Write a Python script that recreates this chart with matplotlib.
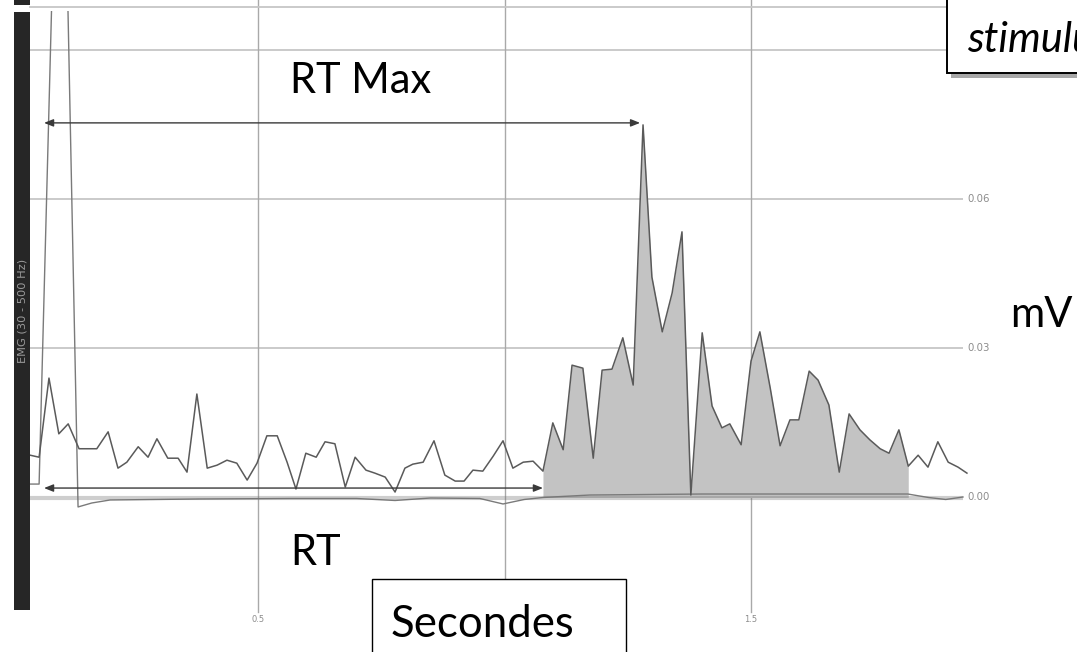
import matplotlib
matplotlib.use("Agg")
import matplotlib.pyplot as plt
from matplotlib.patches import Rectangle

# Rectified EMG envelope (mV) sampled about every 20 ms
time_s = [0.038, 0.056, 0.076, 0.096, 0.115, 0.137, 0.155, 0.173, 0.196, 0.216,
          0.234, 0.257, 0.277, 0.295, 0.317, 0.338, 0.356, 0.376, 0.397, 0.417,
          0.437, 0.457, 0.478, 0.498, 0.518, 0.539, 0.559, 0.577, 0.597, 0.618,
          0.636, 0.656, 0.677, 0.697, 0.719, 0.737, 0.758, 0.778, 0.798, 0.814,
          0.835, 0.857, 0.879, 0.900, 0.918, 0.936, 0.956, 0.977, 0.997, 1.017,
          1.038, 1.058, 1.078, 1.098, 1.119, 1.137, 1.159, 1.180, 1.198, 1.218,
          1.240, 1.261, 1.281, 1.299, 1.320, 1.340, 1.360, 1.378, 1.401, 1.421,
          1.441, 1.457, 1.480, 1.500, 1.518, 1.539, 1.559, 1.579, 1.597, 1.618,
          1.636, 1.658, 1.679, 1.699, 1.721, 1.741, 1.762, 1.780, 1.800, 1.819,
          1.839, 1.859, 1.879, 1.900, 1.920, 1.938]
emg_mv = [0.0085, 0.0081, 0.0240, 0.0128, 0.0148, 0.0098, 0.0098, 0.0098, 0.0132, 0.0059,
          0.0071, 0.0102, 0.0081, 0.0118, 0.0079, 0.0079, 0.0051, 0.0208, 0.0059, 0.0065,
          0.0075, 0.0069, 0.0035, 0.0069, 0.0124, 0.0124, 0.0071, 0.0017, 0.0089, 0.0081,
          0.0112, 0.0108, 0.0021, 0.0081, 0.0055, 0.0049, 0.0041, 0.0011, 0.0059, 0.0067,
          0.0071, 0.0114, 0.0045, 0.0033, 0.0033, 0.0055, 0.0053, 0.0083, 0.0114, 0.0059,
          0.0071, 0.0073, 0.0053, 0.0150, 0.0096, 0.0266, 0.0260, 0.0079, 0.0256, 0.0258,
          0.0321, 0.0226, 0.0749, 0.0443, 0.0333, 0.0411, 0.0534, 0.0005, 0.0331, 0.0184,
          0.0140, 0.0148, 0.0106, 0.0274, 0.0333, 0.0220, 0.0104, 0.0156, 0.0156, 0.0254,
          0.0236, 0.0186, 0.0051, 0.0168, 0.0136, 0.0116, 0.0098, 0.0089, 0.0136, 0.0063,
          0.0085, 0.0061, 0.0112, 0.0071, 0.0061, 0.0049]

# Raw channel around zero, with the stimulation artefact
raw_time = [0.038, 0.056, 0.100, 0.135, 0.163, 0.200, 0.380, 0.565, 0.700, 0.778,
            0.850, 0.950, 0.997, 1.040, 1.078, 1.173, 1.400, 1.818, 1.860, 1.895, 1.930]
raw_mv = [0.0027, 0.0027, 0.1691, -0.0019, -0.0011, -0.0005, -0.0003, -0.0002, -0.0002, -0.0006,
          -0.0001, -0.0002, -0.0013, -0.0004, 0.0000, 0.0005, 0.0007, 0.0007, 0.0000, -0.0004, 0.0001]

# Response window and reaction-time markers (s)
onset_s = 1.078
offset_s = 1.819
peak_s = 1.281
stim_s = 0.066
rt_level = 0.0019
rtmax_level = 0.0753

x_grid = [0.5, 1.0, 1.5]
x_tick_pos = [0.5, 1.5]
x_tick_labels = ["0.5", "1.5"]
y_grid = [0.00, 0.03, 0.06, 0.09]
y_tick_pos = [0.00, 0.03, 0.06]
y_tick_labels = ["0.00", "0.03", "0.06"]

# ---- figure geometry (pixels) ----
W, H = 1077, 652
PX_PER_S = 493.0
X_ZERO = 11.5          # pixel column of t = 0
PX_PER_MV = 4975.0
Y_ZERO = 497.5         # pixel row of 0 mV
L, R, T, B = 30, 970, 11, 612

fig = plt.figure(figsize=(W / 100, H / 100), dpi=100)
fig.patch.set_facecolor("white")

ax = fig.add_axes([L / W, (H - B) / H, (R - L) / W, (B - T) / H])
ax.set_xlim((L - X_ZERO) / PX_PER_S, (R - X_ZERO) / PX_PER_S)
ax.set_ylim((Y_ZERO - B) / PX_PER_MV, (Y_ZERO - T) / PX_PER_MV)
ax.axis("off")

v_top = Y_ZERO / PX_PER_MV          # top edge of the figure in mV
v_low = (Y_ZERO - 612) / PX_PER_MV
x_end = (963 - X_ZERO) / PX_PER_S

grid_h = "#c6c6c6"
grid_v = "#a9a9a9"
for yt in y_grid:
    lw = 3.0 if yt == 0 else 1.3
    col = (0.45, 0.45, 0.45, 0.35) if yt == 0 else grid_h
    ax.plot([(L - X_ZERO) / PX_PER_S, x_end], [yt, yt], color=col, lw=lw,
            zorder=4 if yt == 0 else 1, solid_capstyle="butt")
for xt in x_grid:
    ax.plot([xt, xt], [v_low, v_top], color=grid_v, lw=1.0, zorder=1, clip_on=False)

# Shaded response between onset and offset
sel_t = [t for t in time_s if onset_s <= t <= offset_s]
sel_v = [v for t, v in zip(time_s, emg_mv) if onset_s <= t <= offset_s]
ax.fill_between(sel_t, 0, sel_v, color="#c3c3c3", lw=0, zorder=2)

ax.plot(raw_time, raw_mv, color="#7a7a7a", lw=1.0, zorder=3)
ax.plot(time_s, emg_mv, color="#5a5a5a", lw=1.1, zorder=3)

arrow_kw = dict(arrowstyle="<|-|>,head_length=0.55,head_width=0.22",
                color="#3a3a3a", lw=1.0, shrinkA=0, shrinkB=0, mutation_scale=10)
ax.annotate("", xy=(peak_s - 0.006, rtmax_level), xytext=(stim_s, rtmax_level),
            arrowprops=arrow_kw, zorder=5)
ax.annotate("", xy=(onset_s, rt_level), xytext=(stim_s, rt_level),
            arrowprops=arrow_kw, zorder=5)

tick_font = dict(family="DejaVu Sans", color="#8c8c8c")
for xt, lab in zip(x_tick_pos, x_tick_labels):
    ax.text(xt, (Y_ZERO - 620) / PX_PER_MV, lab, ha="center", va="center",
            fontsize=6, clip_on=False, **tick_font)
for yt, lab in zip(y_tick_pos, y_tick_labels):
    ax.text((967 - X_ZERO) / PX_PER_S, yt, lab, ha="left", va="center",
            fontsize=7.3, clip_on=False, **tick_font)

# ---- overlay in pixel coordinates ----
ov = fig.add_axes([0, 0, 1, 1])
ov.set_xlim(0, W)
ov.set_ylim(H, 0)
ov.axis("off")

ov.add_patch(Rectangle((14, -2), 16, 7, color="#262626", lw=0))
ov.add_patch(Rectangle((14, 12), 16, 598, color="#262626", lw=0))
ov.text(22.5, 311, "EMG (30 - 500 Hz)", rotation=90, ha="center", va="center",
        fontsize=8.2, color="#9a9a9a", family="DejaVu Sans")
ov.plot([30, 963], [6.5, 6.5], color=grid_h, lw=1.3)

label_font = dict(family="Lato", color="black", fontsize=30)
ov.text(290, 93, "RT Max", ha="left", va="baseline", **label_font)
ov.text(290, 565, "RT", ha="left", va="baseline", **label_font)
ov.text(1010, 327, "mV", ha="left", va="baseline", **label_font)

ov.add_patch(Rectangle((372, 579), 254, 90, facecolor="white", edgecolor="black", lw=1.0, zorder=6))
ov.text(391, 637, "Secondes", ha="left", va="baseline", zorder=7,
        family="Lato", color="black", fontsize=31.5)

ov.add_patch(Rectangle((951, -10), 140, 88, facecolor="#a8a8a8", edgecolor="none", zorder=6))
ov.add_patch(Rectangle((947, -10), 140, 83, facecolor="white", edgecolor="black", lw=1.4, zorder=7))
ov.text(967, 52, "stimulus", ha="left", va="baseline", style="italic", zorder=8, **label_font)

fig.savefig("out.png", dpi=100)
